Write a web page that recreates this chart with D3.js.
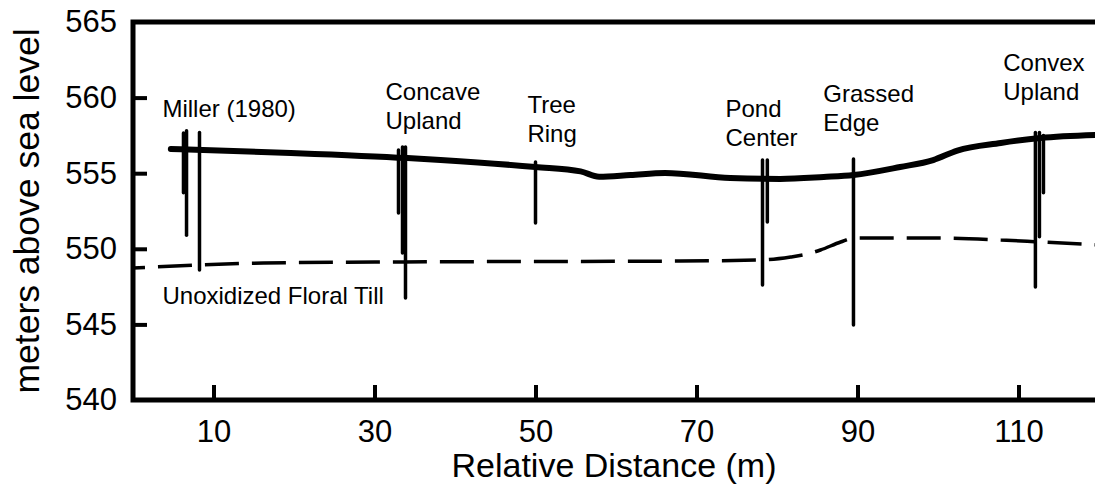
<!DOCTYPE html>
<html>
<head>
<meta charset="utf-8">
<script src="https://cdn.jsdelivr.net/npm/d3@7"></script>
<style>
  body { margin: 0; background: #ffffff; }
  svg { display: block; font-family: "Liberation Sans", Arial, sans-serif; }
</style>
</head>
<body>
<svg id="chart"></svg>
<script>
// tick labels
const distTicks = [10, 30, 50, 70, 90, 110];
const elevTicks = [540, 545, 550, 555, 560, 565];

// ground surface (solid line)
const surfaceDist = [4.7, 19.6, 34.1, 38.2, 50.0, 55.6, 57.9, 61.8, 66.1, 74.2, 80.4, 85.8, 89.5, 95.3, 99.4, 102.4, 107.8, 112.7, 119.6];
const surfaceElev = [556.6, 556.34, 556.0, 555.87, 555.41, 555.12, 554.77, 554.88, 555.01, 554.68, 554.62, 554.75, 554.88, 555.41, 555.87, 556.5, 557.0, 557.33, 557.53];

// top of unoxidized till (dashed line)
const tillDist = [0, 16.2, 33.6, 68.0, 78.0, 81.7, 83.8, 85.4, 87.9, 89.5, 99.1, 107.8, 112.7, 120];
const tillElev = [548.73, 549.06, 549.13, 549.19, 549.26, 549.46, 549.66, 549.92, 550.45, 550.71, 550.71, 550.58, 550.45, 550.25];

// cores: position, top and bottom elevation
const coreDist = [6.27, 6.65, 8.26, 32.98, 33.48, 33.85, 50.0, 78.2, 78.8, 89.5, 112.1, 112.6, 113.1];
const coreTop = [557.66, 557.8, 557.7, 556.53, 556.73, 556.73, 555.74, 555.87, 555.87, 555.94, 557.7, 557.7, 557.5];
const coreBottom = [553.7, 550.9, 548.6, 552.37, 549.72, 546.75, 551.7, 547.6, 551.77, 544.96, 547.47, 550.8, 553.7];

// site labels
const siteNames = [["Miller (1980)"], ["Concave", "Upland"], ["Tree", "Ring"], ["Pond", "Center"], ["Grassed", "Edge"], ["Convex", "Upland"], ["Unoxidized Floral Till"]];
const siteDist = [3.66, 31.37, 49.0, 73.6, 85.75, 108.1, 3.66];
const siteElev = [558.72, 559.84, 558.98, 558.72, 559.7, 561.76, 546.35];

const width = 1095;
const height = 489;

const x = d3.scaleLinear().domain([0, 120]).range([133, 1099]);
const y = d3.scaleLinear().domain([540, 565]).range([400, 22]);

const svg = d3.select("#chart")
    .attr("width", width)
    .attr("height", height)
    .attr("viewBox", `0 0 ${width} ${height}`);

// y axis with inward ticks
const yAxis = svg.append("g")
    .attr("transform", `translate(${x(0)},0)`)
    .call(d3.axisLeft(y).tickValues(elevTicks).tickSize(-14).tickPadding(16).tickFormat(d3.format("d")));
yAxis.select(".domain").remove();
yAxis.selectAll(".tick line")
    .attr("stroke", "#000")
    .attr("stroke-width", 4)
    .attr("display", d => (d === 540 || d === 565) ? "none" : null);
yAxis.selectAll(".tick text")
    .attr("fill", "#000")
    .style("font-size", "31px")
    .style("font-family", "'Liberation Sans', Arial, sans-serif");

// x axis with inward ticks
const xAxis = svg.append("g")
    .attr("transform", `translate(0,${y(540)})`)
    .call(d3.axisBottom(x).tickValues(distTicks).tickSize(-15).tickPadding(20));
xAxis.select(".domain").remove();
xAxis.selectAll(".tick line")
    .attr("stroke", "#000")
    .attr("stroke-width", 4);
xAxis.selectAll(".tick text")
    .attr("fill", "#000")
    .style("font-size", "31px")
    .style("font-family", "'Liberation Sans', Arial, sans-serif");

// frame: left, top and bottom
svg.append("path")
    .attr("d", `M${x(120)},${y(565)}H${x(0)}V${y(540)}H${x(120)}`)
    .attr("fill", "none")
    .attr("stroke", "#000")
    .attr("stroke-width", 5);

// axis titles
svg.append("text")
    .attr("x", 614)
    .attr("y", 477)
    .attr("text-anchor", "middle")
    .style("font-size", "34px")
    .text("Relative Distance (m)");

svg.append("text")
    .attr("transform", `translate(39,${(y(540) + y(565)) / 2}) rotate(-90)`)
    .attr("text-anchor", "middle")
    .style("font-size", "35.5px")
    .text("meters above sea level");

// till surface
const till = tillDist.map((d, i) => [d, tillElev[i]]);
svg.append("path")
    .datum(till)
    .attr("d", d3.line().x(d => x(d[0])).y(d => y(d[1])).curve(d3.curveMonotoneX))
    .attr("fill", "none")
    .attr("stroke", "#000")
    .attr("stroke-width", 3.5)
    .attr("stroke-dasharray", "34 13")
    .attr("stroke-dashoffset", 22);

// ground surface
const surface = surfaceDist.map((d, i) => [d, surfaceElev[i]]);
svg.append("path")
    .datum(surface)
    .attr("d", d3.line().x(d => x(d[0])).y(d => y(d[1])).curve(d3.curveMonotoneX))
    .attr("fill", "none")
    .attr("stroke", "#000")
    .attr("stroke-width", 6)
    .attr("stroke-linecap", "round")
    .attr("stroke-linejoin", "round");

// cores
svg.append("g")
    .selectAll("line")
    .data(coreDist)
    .enter().append("line")
    .attr("x1", d => x(d))
    .attr("x2", d => x(d))
    .attr("y1", (d, i) => y(coreTop[i]))
    .attr("y2", (d, i) => y(coreBottom[i]))
    .attr("stroke", "#000")
    .attr("stroke-width", 3.5)
    .attr("stroke-linecap", "round");

// site labels
const labels = svg.append("g")
    .style("font-size", "24px")
    .selectAll("text")
    .data(siteNames)
    .enter().append("text")
    .attr("x", (d, i) => x(siteDist[i]))
    .attr("y", (d, i) => y(siteElev[i]));

labels.selectAll("tspan")
    .data(d => d)
    .enter().append("tspan")
    .attr("x", function() { return this.parentNode.getAttribute("x"); })
    .attr("dy", (d, i) => i === 0 ? 0 : "1.2em")
    .text(d => d);
</script>
</body>
</html>
